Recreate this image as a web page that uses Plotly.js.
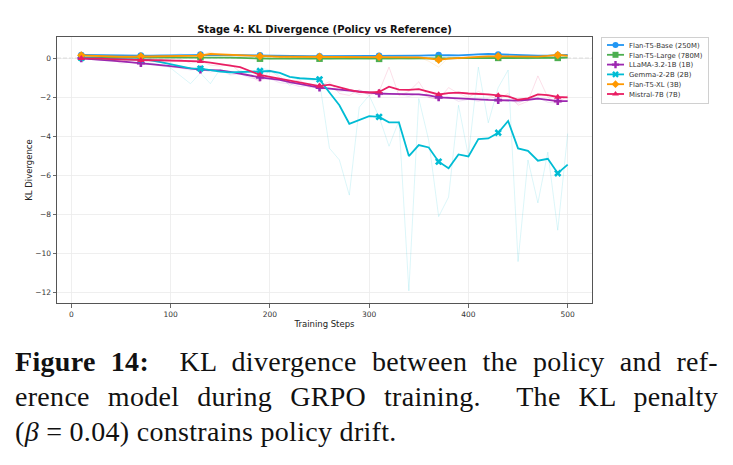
<!DOCTYPE html>
<html>
<head>
<meta charset="utf-8">
<script src="https://cdn.plot.ly/plotly-3.0.1.min.js"></script>
<style>
  html, body { margin: 0; padding: 0; background: #fff; width: 733px; height: 465px; overflow: hidden; }
  #chart { position: absolute; left: 0; top: 0; width: 733px; height: 335px; }
  #caption { position: absolute; left: 15px; top: 344px; width: 703px;
             font-family: 'Liberation Serif', 'DejaVu Serif', serif; font-size: 28px;
             letter-spacing: 0.3px; line-height: 35px; color: #111; white-space: nowrap; }
  #caption .j { text-align: justify; text-align-last: justify; }
</style>
</head>
<body>
<div id="chart"></div>
<div id="caption">
  <div class="j"><b>Figure 14:</b>&nbsp; KL divergence between the policy and ref-</div>
  <div class="j">erence model during GRPO training.&nbsp; The KL penalty</div>
  <div>(<i>β</i> = 0.04) constrains policy drift.</div>
</div>
<script>
// Training steps at which KL was logged
const steps = [10, 20, 30, 40, 50, 60, 70, 80, 90, 100,
               110, 120, 130, 140, 150, 160, 170, 180, 190, 200,
               210, 220, 230, 240, 250, 260, 270, 280, 290, 300,
               310, 320, 330, 340, 350, 360, 370, 380, 390, 400,
               410, 420, 430, 440, 450, 460, 470, 480, 490, 500];

const modelNames = ['Flan-T5-Base (250M)', 'Flan-T5-Large (780M)', 'LLaMA-3.2-1B (1B)',
                    'Gemma-2-2B (2B)', 'Flan-T5-XL (3B)', 'Mistral-7B (7B)'];

// Flan-T5-Base
const baseRaw = [0.2, 0.13, 0.17, 0.12, 0.16, 0.11, 0.15, 0.13, 0.18, 0.16,
                 0.22, 0.15, 0.2, 0.17, 0.19, 0.13, 0.16, 0.14, 0.17, 0.12,
                 0.15, 0.1, 0.13, 0.09, 0.12, 0.13, 0.08, 0.12, 0.1, 0.14,
                 0.11, 0.16, 0.1, 0.13, 0.12, 0.17, 0.2, 0.13, 0.17, 0.12,
                 0.25, 0.19, 0.23, 0.15, 0.12, 0.16, 0.1, 0.15, 0.13, 0.19];
const baseSmooth = [0.17, 0.16, 0.15, 0.15, 0.14, 0.14, 0.14, 0.14, 0.15, 0.17,
                    0.18, 0.18, 0.19, 0.18, 0.17, 0.16, 0.15, 0.15, 0.15, 0.14,
                    0.13, 0.12, 0.12, 0.11, 0.11, 0.11, 0.11, 0.11, 0.12, 0.12,
                    0.13, 0.13, 0.12, 0.12, 0.14, 0.15, 0.17, 0.16, 0.15, 0.16,
                    0.2, 0.22, 0.2, 0.18, 0.14, 0.13, 0.13, 0.14, 0.15, 0.17];

// Flan-T5-Large
const largeRaw = [0.08, 0.02, 0.06, 0.01, 0.05, 0.0, 0.04, 0.03, 0.06, 0.04,
                  0.08, 0.04, 0.07, 0.03, 0.06, 0.01, 0.03, -0.03, 0.0, -0.05,
                  0.01, -0.04, 0.02, -0.03, 0.0, -0.05, 0.01, -0.03, -0.01, -0.04,
                  -0.01, -0.06, 0.0, -0.04, -0.01, -0.03, 0.03, -0.02, 0.03, 0.0,
                  0.05, 0.0, 0.04, -0.01, 0.02, -0.04, 0.02, 0.0, 0.04, 0.06];
const largeSmooth = [0.05, 0.05, 0.04, 0.04, 0.04, 0.03, 0.03, 0.03, 0.04, 0.05,
                     0.05, 0.06, 0.06, 0.05, 0.04, 0.03, 0.02, 0.0, -0.02, -0.02,
                     -0.02, -0.01, -0.01, -0.01, -0.02, -0.02, -0.02, -0.02, -0.02, -0.02,
                     -0.03, -0.03, -0.02, -0.02, -0.02, -0.01, 0.0, 0.0, 0.01, 0.01,
                     0.02, 0.02, 0.02, 0.01, 0.0, -0.01, 0.0, 0.01, 0.02, 0.04];

// LLaMA-3.2-1B
const llamaRaw = [0.0, -0.05, -0.1, -0.05, -0.25, -0.2, -0.35, -0.25, -0.4, -0.45,
                  -0.5, -0.6, -0.55, -0.7, -0.6, -0.85, -0.8, -1.0, -1.1, -1.05,
                  -1.25, -1.3, -1.45, -1.4, -1.6, -1.5, -1.7, -1.65, -1.85, -1.75,
                  -1.9, -1.8, -1.85, -1.95, -1.8, -2.0, -2.1, -1.95, -2.2, -2.1,
                  -2.2, -2.05, -2.25, -2.1, -2.3, -2.05, -2.0, -2.25, -2.3, -2.15];
const llamaSmooth = [0.0, -0.03, -0.07, -0.12, -0.16, -0.2, -0.25, -0.3, -0.35, -0.4,
                     -0.46, -0.52, -0.58, -0.6, -0.62, -0.7, -0.78, -0.88, -0.98, -1.05,
                     -1.1, -1.22, -1.32, -1.42, -1.5, -1.55, -1.6, -1.65, -1.72, -1.78,
                     -1.8, -1.82, -1.82, -1.84, -1.85, -1.9, -2.0, -2.02, -2.05, -2.1,
                     -2.12, -2.13, -2.14, -2.15, -2.17, -2.12, -2.06, -2.13, -2.19, -2.19];

// Gemma-2-2B
const gemmaRaw = [0.05, -0.05, 0.0, -0.1, -0.05, -0.1, 0.0, -0.3, -0.2, -0.5,
                  -0.9, -1.3, -0.75, -1.3, -0.55, -0.8, -0.6, -0.9, -0.5, -0.6,
                  -0.9, -1.4, -1.0, -1.1, -1.2, -4.6, -5.2, -7.0, -2.5, -1.9,
                  -3.0, -4.5, -3.2, -11.9, -2.06, -4.2, -8.1, -7.1, -2.4, -5.0,
                  -0.45, -3.3, -1.5, -0.6, -10.4, -5.2, -7.4, -4.8, -8.8, -3.85];
const gemmaSmooth = [0.02, 0.0, 0.0, -0.02, -0.03, -0.05, -0.05, -0.1, -0.2, -0.3,
                     -0.4, -0.52, -0.53, -0.62, -0.68, -0.72, -0.7, -0.68, -0.65, -0.65,
                     -0.75, -0.95, -1.02, -1.05, -1.08, -1.75, -2.4, -3.35, -3.16, -2.96,
                     -3.0, -3.28, -3.28, -5.0, -4.44, -4.56, -5.29, -5.63, -4.92, -5.02,
                     -4.13, -4.1, -3.81, -3.21, -4.61, -4.73, -5.24, -5.14, -5.88, -5.44];

// Flan-T5-XL
const xlRaw = [0.18, 0.1, 0.12, 0.06, 0.1, 0.05, 0.12, 0.07, 0.13, 0.08,
               0.14, 0.1, 0.18, 0.32, 0.15, 0.2, 0.1, 0.14, 0.07, 0.11,
               0.05, 0.1, 0.06, 0.11, 0.07, 0.09, 0.04, 0.1, 0.05, 0.09,
               0.1, 0.04, 0.08, 0.03, 0.06, -0.15, -0.45, 0.05, -0.05, 0.07,
               0.1, 0.13, 0.06, 0.1, 0.04, 0.1, 0.07, 0.16, 0.22, 0.1];
const xlSmooth = [0.15, 0.13, 0.1, 0.09, 0.08, 0.08, 0.09, 0.09, 0.1, 0.1,
                  0.11, 0.12, 0.14, 0.22, 0.2, 0.17, 0.14, 0.12, 0.1, 0.09,
                  0.08, 0.08, 0.08, 0.08, 0.08, 0.08, 0.07, 0.07, 0.07, 0.07,
                  0.08, 0.07, 0.06, 0.06, 0.05, 0.0, -0.08, -0.02, 0.0, 0.03,
                  0.07, 0.1, 0.1, 0.08, 0.07, 0.08, 0.09, 0.12, 0.17, 0.14];

// Mistral-7B
const mistralRaw = [0.0, -0.05, 0.05, -0.1, -0.15, -0.05, -0.2, 0.0, -0.15, -0.2,
                    -0.05, -0.25, -0.15, -0.35, -0.4, -0.3, -0.7, -0.9, -1.2, -0.6,
                    -1.0, -1.3, -1.1, -1.5, -1.4, -1.2, -1.8, -1.9, -1.6, -1.9,
                    -1.7, -0.45, -1.9, -1.7, -1.2, -2.0, -2.1, -1.5, -1.8, -2.0,
                    -1.7, -1.9, -2.1, -1.8, -2.4, -2.2, -0.9, -2.0, -2.3, -1.9];
const mistralSmooth = [0.0, 0.0, -0.02, -0.04, -0.06, -0.08, -0.1, -0.1, -0.1, -0.12,
                       -0.13, -0.15, -0.16, -0.22, -0.3, -0.36, -0.45, -0.65, -0.85, -0.95,
                       -1.05, -1.15, -1.25, -1.32, -1.42, -1.35, -1.5, -1.62, -1.72, -1.75,
                       -1.72, -1.45, -1.6, -1.62, -1.58, -1.7, -1.85, -1.78, -1.76, -1.8,
                       -1.82, -1.85, -1.9, -1.95, -2.12, -2.05, -1.85, -1.88, -1.98, -2.0];

const rawSeries = [baseRaw, largeRaw, llamaRaw, gemmaRaw, xlRaw, mistralRaw];
const smoothSeries = [baseSmooth, largeSmooth, llamaSmooth, gemmaSmooth, xlSmooth, mistralSmooth];

// Styling
const lineColors = ['#2196F3', '#4CAF50', '#9C27B0', '#00BCD4', '#FF9800', '#E91E63'];
const symbols = ['circle', 'square', 'cross', 'x', 'diamond', 'triangle-up'];
const markEvery = 6;
const font = 'DejaVu Sans, sans-serif';

const traces = [];
const legendTraces = [];
modelNames.forEach((name, k) => {
  const color = lineColors[k];
  traces.push({
    x: steps, y: rawSeries[k], type: 'scatter', mode: 'lines',
    line: { color: color, width: 0.8 }, opacity: 0.18,
    showlegend: false, hoverinfo: 'skip'
  });
  traces.push({
    x: steps, y: smoothSeries[k], type: 'scatter', mode: 'lines',
    line: { color: color, width: 1.8 }, showlegend: false, name: name
  });
  traces.push({
    x: steps.filter((_, i) => i % markEvery === 0),
    y: smoothSeries[k].filter((_, i) => i % markEvery === 0),
    type: 'scatter', mode: 'markers',
    marker: { symbol: symbols[k], size: 6.5, color: color },
    showlegend: false, name: name
  });
  legendTraces.push({
    x: [null], y: [null], type: 'scatter', mode: 'lines+markers', name: name,
    line: { color: color, width: 1.8 },
    marker: { symbol: symbols[k], size: 6, color: color },
    showlegend: true
  });
});

const axisCommon = {
  showgrid: true, gridcolor: '#ebebeb', gridwidth: 0.8,
  showline: true, linecolor: '#555', linewidth: 1, mirror: true,
  ticks: 'outside', ticklen: 3.5, tickwidth: 0.8, tickcolor: '#444',
  tickfont: { family: font, size: 7.5, color: '#333' },
  zeroline: false
};

const layout = {
  width: 733, height: 335,
  margin: { l: 57, r: 140, t: 37, b: 32 },
  paper_bgcolor: '#fff', plot_bgcolor: '#fff',
  font: { family: font, color: '#222' },
  title: {
    text: '<b>Stage 4: KL Divergence (Policy vs Reference)</b>',
    font: { family: font, size: 10, color: '#111' },
    x: 0.5, xref: 'paper', y: 1 - 29 / 335, yref: 'container', yanchor: 'middle'
  },
  xaxis: Object.assign({}, axisCommon, {
    range: [-14.5, 524.5], dtick: 100,
    title: { text: 'Training Steps', font: { family: font, size: 8.5, color: '#222' }, standoff: 3 }
  }),
  yaxis: Object.assign({}, axisCommon, {
    range: [-12.52, 1.09], dtick: 2,
    title: { text: 'KL Divergence', font: { family: font, size: 8.5, color: '#222' }, standoff: 1 }
  }),
  shapes: [{
    type: 'line', xref: 'paper', x0: 0, x1: 1, yref: 'y', y0: 0, y1: 0,
    line: { color: '#b3b3b3', width: 1, dash: '4px,2px' }, layer: 'between'
  }],
  legend: {
    x: (601 - 57) / 536, xanchor: 'left', y: 1, yanchor: 'top',
    bgcolor: '#fff', bordercolor: '#d0d0d0', borderwidth: 1,
    font: { family: font, size: 6.9, color: '#333' },
    tracegroupgap: 0
  },
  showlegend: true
};

const gd = document.getElementById('chart');
Plotly.newPlot(gd, traces.concat(legendTraces), layout, { displayModeBar: false, staticPlot: true })
  .then(() => {
    // Tighten the legend: compact rows and short line samples
    const leg = gd.querySelector('g.legend');
    if (!leg) return;
    const items = leg.querySelectorAll('g.traces');
    const rowGap = 9.8, firstRow = 8;
    let maxRight = 0;
    items.forEach((el, i) => {
      const m = /translate\(([^,]+),/.exec(el.getAttribute('transform') || '');
      const tx = m ? parseFloat(m[1]) : 1;
      el.setAttribute('transform', 'translate(' + tx + ',' + (firstRow + i * rowGap) + ')');
      el.querySelectorAll('g.legendlines path').forEach(p => p.setAttribute('d', 'M5,0h17'));
      el.querySelectorAll('g.legendpoints path').forEach(p => p.setAttribute('transform', 'translate(13.5,0)'));
      const t = el.querySelector('text.legendtext');
      if (t) {
        t.setAttribute('x', 27);
        const w = t.getComputedTextLength ? t.getComputedTextLength() : 70;
        maxRight = Math.max(maxRight, tx + 27 + w);
      }
    });
    const bg = leg.querySelector('rect.bg');
    if (bg) {
      bg.setAttribute('height', firstRow * 2 + (items.length - 1) * rowGap + 1);
      bg.setAttribute('width', maxRight + 6);
    }
  });
</script>
</body>
</html>
